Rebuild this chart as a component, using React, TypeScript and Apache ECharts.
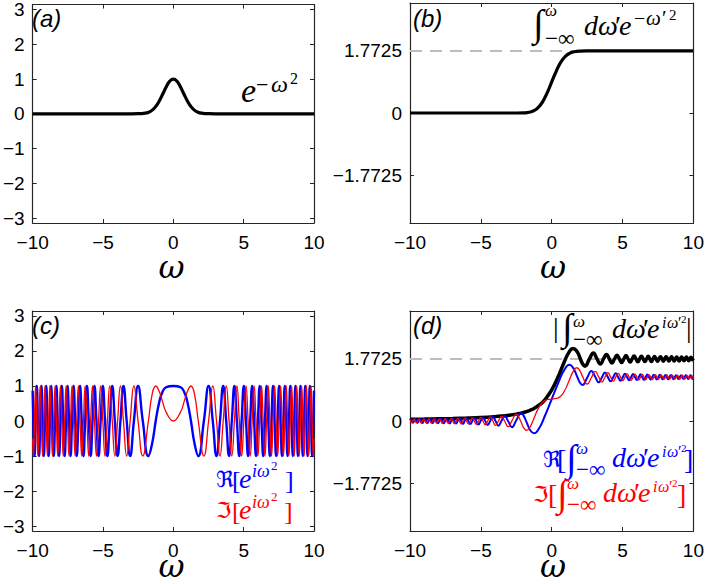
import React, { useEffect, useRef } from "react";
import * as echarts from "echarts";

// ---------- data ----------
const sqrtPi = 1.7725;
const yTicksUnit = [-3, -2, -1, 0, 1, 2, 3];
const yTicksRoot = [-1.7725, 0, 1.7725];
const xTicks = [-10, -5, 0, 5, 10];

// (a) Gaussian
const gaussOmega = [-10, -5, -3, -2.5, -2, -1.75, -1.5, -1.25, -1, -0.75, -0.5, -0.25, 0, 0.25, 0.5, 0.75, 1, 1.25, 1.5, 1.75, 2, 2.5, 3, 5, 10];
const gaussValue = [0, 0, 0.0001, 0.0019, 0.0183, 0.0468, 0.1054, 0.2096, 0.3679, 0.5698, 0.7788, 0.9394, 1, 0.9394, 0.7788, 0.5698, 0.3679, 0.2096, 0.1054, 0.0468, 0.0183, 0.0019, 0.0001, 0, 0];

// (b) cumulative Gaussian
const erfOmega = [-10, -5, -3, -2.5, -2, -1.75, -1.5, -1.25, -1, -0.75, -0.5, -0.25, 0, 0.25, 0.5, 0.75, 1, 1.25, 1.5, 1.75, 2, 2.5, 3, 5, 10];
const erfValue = [0, 0, 0, 0.0004, 0.0041, 0.0118, 0.03, 0.0683, 0.1394, 0.256, 0.425, 0.6413, 0.8862, 1.1311, 1.3475, 1.5165, 1.6331, 1.7042, 1.7425, 1.7607, 1.7684, 1.7722, 1.7725, 1.7725, 1.7725];

// (c) oscillation, omega >= 0 (curves are even in omega)
const oscOmegaHead = [0, 0.5, 0.8, 1.0, 1.253, 1.5, 1.773, 2.171, 2.507, 2.803, 3.07, 3.316, 3.545];
const oscOmegaTail = [3.76, 3.963, 4.157, 4.342, 4.519, 4.69, 4.854, 5.013, 5.168, 5.317, 5.463, 5.605, 5.743, 5.879, 6.011, 6.14, 6.267, 6.391, 6.512, 6.632, 6.749, 6.865, 6.978, 7.09, 7.2, 7.308, 7.415, 7.52, 7.624, 7.726, 7.827, 7.927, 8.025, 8.122, 8.219, 8.314, 8.408, 8.5, 8.592, 8.683, 8.773, 8.862, 8.951, 9.038, 9.124, 9.21, 9.295, 9.379, 9.462, 9.545, 9.627, 9.708, 9.789, 9.869, 9.948, 10];
const reOscHead = [1, 0.969, 0.802, 0.54, 0, -0.628, -1, 0, 1, 0, -1, 0, 1];
const imOscHead = [0, 0.247, 0.597, 0.841, 1, 0.778, 0, -1, 0, 1, 0, -1, 0];
const reOscTail = [
  0, -1, 0, 1, 0, -1, 0, 1, 0, -1, 0, 1, 0, -1, 0, 1,
  0, -1, 0, 1, 0, -1, 0, 1, 0, -1, 0, 1, 0, -1, 0, 1,
  0, -1, 0, 1, 0, -1, 0, 1, 0, -1, 0, 1, 0, -1, 0, 1,
  0, -1, 0, 1, 0, -1, 0, 0.862,
];
const imOscTail = [
  1, 0, -1, 0, 1, 0, -1, 0, 1, 0, -1, 0, 1, 0, -1, 0,
  1, 0, -1, 0, 1, 0, -1, 0, 1, 0, -1, 0, 1, 0, -1, 0,
  1, 0, -1, 0, 1, 0, -1, 0, 1, 0, -1, 0, 1, 0, -1, 0,
  1, 0, -1, 0, 1, 0, -1, -0.506,
];

// (d) running integral; "Neg" arrays give the value at -omega
const fresOmegaHead = [0, 0.501, 0.877, 1.253, 1.504, 1.773, 2.005, 2.171, 2.507, 2.803, 3.07, 3.316, 3.545];
const rePosHead = [0.627, 1.125, 1.454, 1.604, 1.523, 1.289, 1.085, 1.029, 1.239, 1.429, 1.262, 1.104, 1.248];
const imPosHead = [0.627, 0.669, 0.842, 1.176, 1.408, 1.521, 1.427, 1.275, 1.057, 1.243, 1.415, 1.26, 1.113];
const reNegHead = [0.627, 0.128, -0.201, -0.351, -0.27, -0.036, 0.168, 0.224, 0.014, -0.176, -0.009, 0.149, 0.005];
const imNegHead = [0.627, 0.584, 0.411, 0.077, -0.155, -0.268, -0.174, -0.022, 0.196, 0.01, -0.162, -0.007, 0.14];
const rePosTail = [
  1.386, 1.253, 1.133, 1.253, 1.364, 1.253, 1.15, 1.253, 1.35, 1.253, 1.161, 1.253,
  1.34, 1.253, 1.17, 1.253, 1.333, 1.253, 1.176, 1.253, 1.327, 1.253, 1.181, 1.253,
  1.322, 1.253, 1.186, 1.253, 1.319, 1.253, 1.189, 1.253, 1.315, 1.253, 1.192, 1.253,
  1.313, 1.253, 1.195, 1.253, 1.31, 1.253, 1.197, 1.253, 1.308, 1.253, 1.199, 1.253,
  1.306, 1.253, 1.201, 1.253, 1.304, 1.253, 1.203, 1.228,
];
const imPosTail = [
  1.253, 1.379, 1.253, 1.138, 1.253, 1.36, 1.253, 1.153, 1.253, 1.347, 1.253, 1.164,
  1.253, 1.338, 1.253, 1.172, 1.253, 1.331, 1.253, 1.178, 1.253, 1.326, 1.253, 1.182,
  1.253, 1.321, 1.253, 1.186, 1.253, 1.318, 1.253, 1.19, 1.253, 1.315, 1.253, 1.193,
  1.253, 1.312, 1.253, 1.195, 1.253, 1.309, 1.253, 1.198, 1.253, 1.307, 1.253, 1.2,
  1.253, 1.305, 1.253, 1.201, 1.253, 1.304, 1.253, 1.21,
];
const reNegTail = [
  -0.133, 0, 0.12, 0, -0.111, 0, 0.103, 0, -0.097, 0, 0.092, 0,
  -0.087, 0, 0.083, 0, -0.08, 0, 0.077, 0, -0.074, 0, 0.072, 0,
  -0.069, 0, 0.067, 0, -0.066, 0, 0.064, 0, -0.062, 0, 0.061, 0,
  -0.06, 0, 0.058, 0, -0.057, 0, 0.056, 0, -0.055, 0, 0.054, 0,
  -0.053, 0, 0.052, 0, -0.051, 0, 0.05, 0.025,
];
const imNegTail = [
  0, -0.126, 0, 0.115, 0, -0.107, 0, 0.1, 0, -0.094, 0, 0.089,
  0, -0.085, 0, 0.081, 0, -0.078, 0, 0.075, 0, -0.073, 0, 0.071,
  0, -0.068, 0, 0.067, 0, -0.065, 0, 0.063, 0, -0.062, 0, 0.06,
  0, -0.059, 0, 0.058, 0, -0.056, 0, 0.055, 0, -0.054, 0, 0.053,
  0, -0.052, 0, 0.052, 0, -0.051, 0, 0.043,
];
const absNegOmega = [0, 0.501, 0.877, 1.253, 1.504, 1.773, 2.005, 2.171, 2.507, 3, 3.5, 4, 5, 6, 7, 8, 9, 10];
const absNegValue = [0.886, 0.599, 0.457, 0.359, 0.311, 0.27, 0.242, 0.225, 0.197, 0.167, 0.143, 0.125, 0.1, 0.083, 0.071, 0.063, 0.056, 0.05];
const absPosOmega = [
  0, 0.501, 0.877, 1.253, 1.504, 1.773, 2.005, 2.171, 2.345, 2.659, 2.939, 3.195, 3.432, 3.654, 3.863, 4.061,
  4.25, 4.431, 4.605, 4.773, 4.934, 5.091, 5.243, 5.391, 5.535, 5.675, 5.811, 5.945, 6.076, 6.204, 6.329, 6.452,
  6.573, 6.691, 6.807, 6.922, 7.034, 7.145, 7.254, 7.362, 7.468, 7.572, 7.675, 7.777, 7.877, 7.976, 8.074, 8.171,
  8.266, 8.361, 8.454, 8.547, 8.638, 8.728, 8.818, 8.906, 8.994, 9.081, 9.167, 9.253, 9.337, 9.421, 9.504, 9.586,
  9.668, 9.749, 9.829, 9.908, 10,
];
const absPosValue = [
  0.886, 1.309, 1.68, 1.989, 2.074, 1.994, 1.793, 1.639, 1.566, 1.769, 1.943, 1.773, 1.627, 1.773, 1.902, 1.773,
  1.655, 1.773, 1.881, 1.773, 1.671, 1.773, 1.868, 1.773, 1.682, 1.773, 1.859, 1.773, 1.69, 1.773, 1.852, 1.773,
  1.696, 1.773, 1.846, 1.773, 1.701, 1.773, 1.841, 1.773, 1.706, 1.773, 1.838, 1.773, 1.709, 1.773, 1.834, 1.773,
  1.712, 1.773, 1.832, 1.773, 1.715, 1.773, 1.829, 1.773, 1.717, 1.773, 1.827, 1.773, 1.719, 1.773, 1.825, 1.773,
  1.721, 1.773, 1.823, 1.773, 1.724,
];

// ---------- helpers ----------
const zip = (xs: number[], ys: number[]) => xs.map((x, i) => [x, ys[i]]);
const joinSides = (absXs: number[], negVals: number[], posXs: number[], posVals: number[]) => [
  ...absXs.slice(1).map((x, i) => [-x, negVals[i + 1]]).reverse(),
  ...zip(posXs, posVals),
];

const oscOmega = [...oscOmegaHead, ...oscOmegaTail];
const reOsc = [...reOscHead, ...reOscTail];
const imOsc = [...imOscHead, ...imOscTail];
const fresOmega = [...fresOmegaHead, ...oscOmegaTail];
const rePos = [...rePosHead, ...rePosTail];
const imPos = [...imPosHead, ...imPosTail];
const reNeg = [...reNegHead, ...reNegTail];
const imNeg = [...imNegHead, ...imNegTail];

const SANS = "'Liberation Sans', Arial, Helvetica, sans-serif";
const SERIF = "'Liberation Serif', 'DejaVu Serif', serif";
const SYM = "'DejaVu Serif', 'DejaVu Sans', serif";
const AX = "#262626";
const YR = 3.1416;

const fmt = (v: number) => String(Math.round(v * 10000) / 10000).replace("-", "\u2212");

type Part = [string, number, number, number, string];
const math = (parts: Part[], color: string) =>
  parts.map(([t, x, b, s, k]) => ({
    type: "text",
    x,
    y: b - 0.34 * s,
    silent: true,
    style: {
      text: t,
      fontSize: s,
      lineHeight: Math.round(s * 0.8),
      fontFamily: k === "s" ? SYM : SERIF,
      fontStyle: k === "i" ? "italic" : "normal",
      fill: color,
      align: "left",
      verticalAlign: "middle",
    },
  }));

const grids = [
  { left: 29, top: 3, width: 285, height: 220 },
  { left: 410, top: 3, width: 286, height: 220 },
  { left: 29, top: 311, width: 285, height: 220 },
  { left: 410, top: 311, width: 286, height: 220 },
];

function buildAxes() {
  const xAxis: any[] = [];
  const yAxis: any[] = [];
  grids.forEach((_, gi) => {
    const yt = gi % 2 === 0 ? yTicksUnit : yTicksRoot;
    const line = { show: true, onZero: false, lineStyle: { color: AX, width: 1.2 } };
    const tick = { show: true, inside: true, length: 4, lineStyle: { color: AX, width: 1 } };
    xAxis.push({
      type: "value", gridIndex: gi, position: "bottom", min: -10, max: 10, interval: 5,
      axisLine: line, axisTick: tick, splitLine: { show: false },
      axisLabel: { show: true, color: "#000", fontSize: 19, fontFamily: SANS, margin: 10, formatter: fmt, customValues: xTicks },
    });
    xAxis.push({
      type: "value", gridIndex: gi, position: "top", min: -10, max: 10, interval: 5,
      axisLine: line, axisTick: tick, splitLine: { show: false }, axisLabel: { show: false },
    });
    yAxis.push({
      type: "value", gridIndex: gi, position: "left", min: -YR, max: YR,
      axisLine: line, axisTick: { ...tick, customValues: yt }, splitLine: { show: false },
      axisLabel: { show: true, color: "#000", fontSize: 19, fontFamily: SANS, margin: 8, formatter: fmt, customValues: yt },
    });
    yAxis.push({
      type: "value", gridIndex: gi, position: "right", min: -YR, max: YR,
      axisLine: line, axisTick: { ...tick, customValues: yt }, splitLine: { show: false }, axisLabel: { show: false },
    });
  });
  return { xAxis, yAxis };
}

const lineSeries = (gi: number, data: number[][], color: string, width: number, extra: any = {}) => ({
  type: "line",
  xAxisIndex: gi * 2,
  yAxisIndex: gi * 2,
  data,
  showSymbol: false,
  symbol: "none",
  smooth: true,
  silent: true,
  lineStyle: { color, width },
  ...extra,
});

const dashed = (gi: number) =>
  lineSeries(gi, [[-10, sqrtPi], [10, sqrtPi]], "#bdbdbd", 2, { smooth: false, lineStyle: { color: "#bdbdbd", width: 2, type: [12, 8] } });

const BLUE = "#0000ff";
const RED = "#ff0000";

const labelA: Part[] = [["e", 241, 102, 34, "i"], ["\u2212", 256, 92, 22, "n"], ["\u03c9", 271, 92, 24, "i"], ["2", 290, 84, 16, "n"]];
const labelB: Part[] = [
  ["\u222b", 533, 36, 38, "n"], ["\u03c9", 545, 16, 17, "i"], ["\u2212\u221e", 545, 46, 23, "n"],
  ["d", 584, 35, 28, "i"], ["\u03c9", 598, 35, 28, "i"], ["\u2032", 615, 35, 28, "n"], ["e", 619, 35, 28, "i"],
  ["\u2212", 634, 25, 20, "n"], ["\u03c9", 646, 25, 21, "i"], ["\u2032", 662, 25, 21, "n"], ["2", 669, 20, 15, "n"],
];
const labelDabs: Part[] = [
  ["|", 553, 337, 28, "n"], ["\u222b", 562, 340, 38, "n"], ["\u03c9", 573, 327, 17, "i"], ["\u2212\u221e", 573, 347, 23, "n"],
  ["d", 612, 338, 28, "i"], ["\u03c9", 626, 338, 28, "i"], ["\u2032", 643, 338, 28, "n"], ["e", 647, 338, 28, "i"],
  ["i", 662, 328, 16, "i"], ["\u03c9", 667, 328, 16, "i"], ["\u2032", 678, 328, 16, "n"], ["2", 681, 323, 11, "n"],
  ["|", 686, 337, 28, "n"],
];
const labelDre: Part[] = [
  ["\u211c", 543, 467, 22, "s"], ["[", 557, 469, 28, "n"], ["\u222b", 566, 471, 38, "n"], ["\u03c9", 576, 454, 17, "i"], ["\u2212\u221e", 576, 477, 23, "n"],
  ["d", 612, 467, 28, "i"], ["\u03c9", 626, 467, 28, "i"], ["\u2032", 643, 467, 28, "n"], ["e", 647, 467, 28, "i"],
  ["i", 662, 457, 16, "i"], ["\u03c9", 667, 457, 16, "i"], ["\u2032", 678, 457, 16, "n"], ["2", 681, 452, 11, "n"],
  ["]", 684, 469, 28, "n"],
];
const labelDim: Part[] = [
  ["\u2111", 533, 502, 22, "s"], ["[", 548, 504, 28, "n"], ["\u222b", 557, 506, 38, "n"], ["\u03c9", 567, 489, 17, "i"], ["\u2212\u221e", 567, 512, 23, "n"],
  ["d", 603, 502, 28, "i"], ["\u03c9", 617, 502, 28, "i"], ["\u2032", 634, 502, 28, "n"], ["e", 638, 502, 28, "i"],
  ["i", 653, 492, 16, "i"], ["\u03c9", 658, 492, 16, "i"], ["\u2032", 669, 492, 16, "n"], ["2", 672, 487, 11, "n"],
  ["]", 677, 504, 28, "n"],
];
const labelCre: Part[] = [
  ["\u211c", 216, 487, 22, "s"], ["[", 232, 489, 26, "n"], ["e", 239, 488, 28, "i"],
  ["i", 252, 477, 18, "i"], ["\u03c9", 257, 477, 18, "i"], ["2", 271, 470, 13, "n"], ["]", 285, 489, 26, "n"],
];
const labelCim: Part[] = [
  ["\u2111", 216, 518, 22, "s"], ["[", 232, 520, 26, "n"], ["e", 239, 519, 28, "i"],
  ["i", 252, 508, 18, "i"], ["\u03c9", 257, 508, 18, "i"], ["2", 271, 501, 13, "n"], ["]", 284, 520, 26, "n"],
];

const panelTag = (t: string, x: number, y: number) => ({
  type: "text", x, y, silent: true,
  style: { text: t, fontSize: 24, lineHeight: 24, fontFamily: SANS, fontStyle: "italic", fill: "#000", align: "left", verticalAlign: "middle" },
});
const omegaName = (x: number, y: number) => ({
  type: "text", x, y, silent: true,
  style: { text: "\u03c9", fontSize: 32, lineHeight: 22, fontFamily: SYM, fontStyle: "italic", fill: "#000", align: "center", verticalAlign: "middle" },
});

export default function App() {
  const ref = useRef<HTMLDivElement>(null);
  useEffect(() => {
    if (!ref.current) return;
    const chart = echarts.init(ref.current, null, { renderer: "svg" });
    const { xAxis, yAxis } = buildAxes();
    chart.setOption({
      animation: false,
      backgroundColor: "#fff",
      grid: grids,
      xAxis,
      yAxis,
      series: [
        lineSeries(0, zip(gaussOmega, gaussValue), "#000", 3.2),
        dashed(1),
        lineSeries(1, zip(erfOmega, erfValue), "#000", 3.2),
        lineSeries(2, joinSides(oscOmega, reOsc, oscOmega, reOsc), BLUE, 2.4),
        lineSeries(2, joinSides(oscOmega, imOsc, oscOmega, imOsc), RED, 1.3),
        dashed(3),
        lineSeries(3, joinSides(absNegOmega, absNegValue, absPosOmega, absPosValue), "#000", 3.5),
        lineSeries(3, joinSides(fresOmega, reNeg, fresOmega, rePos), BLUE, 2),
        lineSeries(3, joinSides(fresOmega, imNeg, fresOmega, imPos), RED, 1.3),
      ],
      graphic: [
        panelTag("(a)", 32, 18),
        panelTag("(b)", 413, 18),
        panelTag("(c)", 32, 325),
        panelTag("(d)", 413, 325),
        omegaName(171.5, 267),
        omegaName(553, 267),
        omegaName(171.5, 566),
        omegaName(553, 566),
        ...math(labelA, "#000"),
        ...math(labelB, "#000"),
        ...math(labelDabs, "#000"),
        ...math(labelDre, BLUE),
        ...math(labelDim, RED),
        ...math(labelCre, BLUE),
        ...math(labelCim, RED),
      ],
    });
    return () => chart.dispose();
  }, []);
  return <div ref={ref} style={{ position: "absolute", left: 0, top: 0, width: 707, height: 584 }} />;
}
